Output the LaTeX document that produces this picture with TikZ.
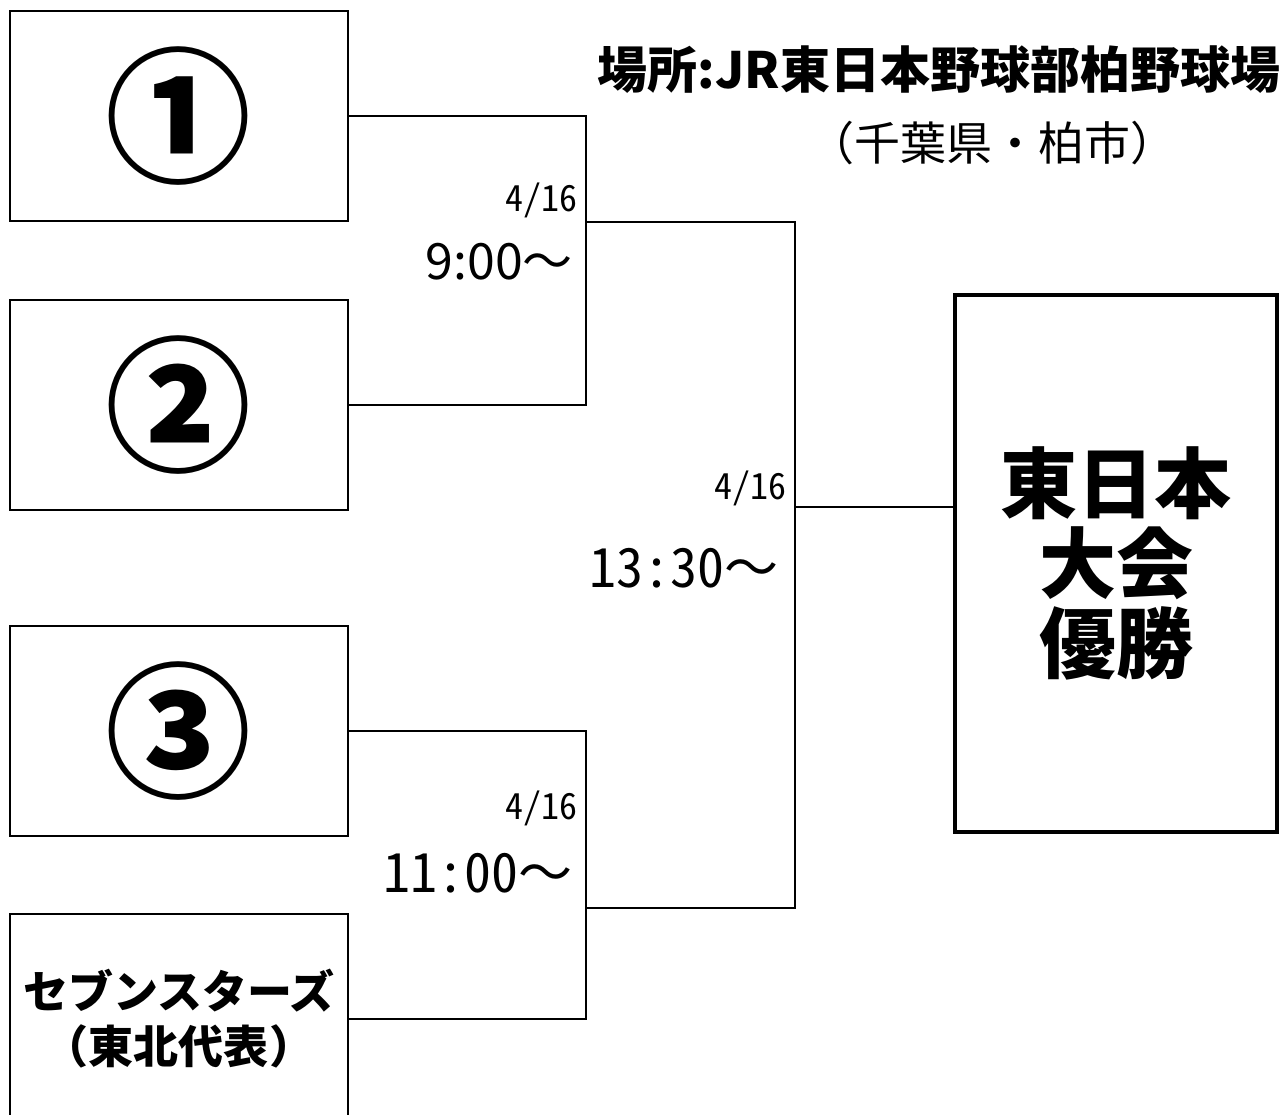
\documentclass[tikz,border=0pt]{standalone}
\usepackage{fontspec}
\setmainfont{Noto Sans CJK JP}
\newfontfamily\hwfont[RawFeature=+hwid]{Noto Sans CJK JP}
\newcommand\fromtime{{\rmfamily〜}}
\usetikzlibrary{positioning}
\tikzset{
    teambox/.style={
        draw,
        line width=2bp,
        minimum width=338bp,
        minimum height=210bp,
        inner sep=0pt,
        align=center
    },
    seednum/.style={font=\bfseries\fontsize{146bp}{146bp}\selectfont},
    teamname/.style={font=\bfseries\fontsize{45bp}{55bp}\selectfont},
    champbox/.style={
        draw,
        line width=4bp,
        minimum width=322bp,
        minimum height=537bp,
        inner sep=0pt,
        align=center,
        font=\bfseries\fontsize{77bp}{80bp}\selectfont
    },
    datelabel/.style={anchor=east, inner sep=0pt, font=\hwfont\fontsize{36bp}{36bp}\selectfont},
    timelabel/.style={anchor=east, inner sep=0pt, font=\hwfont\fontsize{54bp}{54bp}\selectfont},
    line/.style={line width=2bp}
}

\begin{document}
\begin{tikzpicture}[x=1bp, y=-1bp, node distance=77bp]
        \useasboundingbox (0,0) rectangle (1288,1115);
        \clip (0,0) rectangle (1288,1115);
        \fill[white] (0,0) rectangle (1288,1115);

        % teams
        \node[teambox, seednum] (b1) at (179,116) {①};
        \node[teambox, seednum, below=of b1] (b2) {②};
        \node[teambox, seednum, below=114bp of b2] (b3) {③};
        \node[teambox, teamname, below=76bp of b3] (b4) {セブンスターズ\\（東北代表）};

        \node[champbox] (champ) at (1116,563.5) {東日本\\大会\\優勝};

        % junctions
        \coordinate (j1) at (586,222);
        \coordinate (j2) at (586,908);
        \coordinate (j3) at (795,507);

        \draw[line] (b1.east) -| (j1) |- (b2.east);
        \draw[line] (b3.east) -| (j2) |- (b4.east);
        \draw[line] (j1) -| (j3) |- (j2);
        \draw[line] (j3) -- (j3 -| champ.west);

        % times
        \node[datelabel] (d1) at (578,200) {4/16};
        \node[timelabel, font=\fontsize{50bp}{50bp}\selectfont] (t1) at (573,262) {9:00〜};
        \node[datelabel] (d2) at (787,488) {4/16};
        \node[timelabel] (t2) at (779,568) {13:30\fromtime};
        \node[datelabel] (d3) at (578,808) {4/16};
        \node[timelabel] (t3) at (573,873) {11:00\fromtime};

        % place
        \node[font=\bfseries\fontsize{50bp}{50bp}\selectfont] (place) at (939,70) {場所:JR東日本野球部柏野球場};
        \node[font=\fontsize{46bp}{46bp}\selectfont] (city) at (992,143) {（千葉県・柏市）};
    \end{tikzpicture}
\end{document}
